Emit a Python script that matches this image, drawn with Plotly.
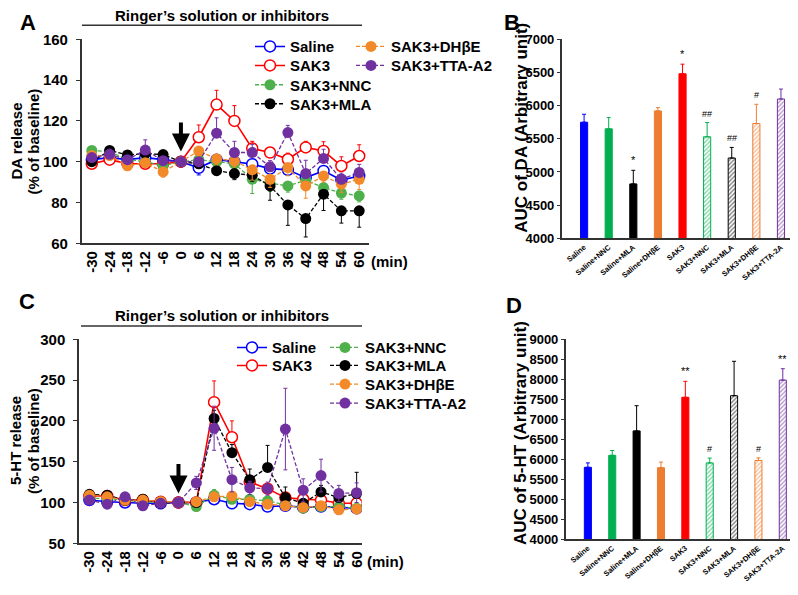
import plotly.graph_objects as go

# page body has an 8px margin: size the figure so it fills the 798x595 window
OFF = 8
W, H = 798 - OFF, 595 - OFF

# ---------------- data ----------------
time_min = [-30, -24, -18, -12, -6, 0, 6, 12, 18, 24, 30, 36, 42, 48, 54, 60]
time_labels = [str(t) for t in time_min]

series_names = ["Saline", "SAK3", "SAK3+NNC", "SAK3+MLA", "SAK3+DHβE", "SAK3+TTA-A2"]

# Panel A: DA release (% of baseline)
da_saline = [101, 102, 101, 102, 101, 100, 97, 101, 100, 98.8, 96.6, 96, 92.2, 95.5, 91, 93]
da_sak3 = [99, 101, 99, 99, 99, 100, 112, 128, 120, 106.5, 104.5, 101.2, 107, 105.3, 97.9, 102.8]
da_nnc = [105.5, 105, 101, 100, 98, 100, 101, 100, 99, 91.4, 89.5, 88.1, 90.9, 87.3, 84.6, 83.3]
da_mla = [100, 105.5, 103.3, 104, 103.5, 100, 99, 95.6, 94.2, 93.4, 88.1, 78.8, 72.1, 84.1, 75.9, 75.9]
da_dhbe = [103, 103, 98, 99.5, 95, 100, 105.2, 101.5, 100.4, 96, 91.4, 97.1, 88.1, 93, 89, 91.4]
da_tta = [102, 103.6, 101, 105.7, 100.5, 100, 100, 114, 104.5, 104.5, 97.5, 114.3, 94.2, 101.6, 91.4, 94.7]

da_saline_err = [1.5, 1.5, 1.5, 1.5, 1.5, 0, 3.5, 2, 2, 2, 2.5, 2.5, 2.5, 2, 2, 2]
da_sak3_err = [1.5, 1.5, 2, 2, 2, 0, 6, 7, 7.5, 3.5, 2.5, 3, 3, 4.5, 4.5, 5.5]
da_nnc_err = [2.5, 3, 2, 2, 2, 0, 2, 3, 3, 7, 4, 3, 3, 3, 3, 3]
da_mla_err = [2, 2, 2, 2, 2, 0, 2, 2, 3, 3, 7, 10, 9, 8, 6, 8]
da_dhbe_err = [2, 2, 2, 2, 2.5, 0, 3, 3, 3, 5, 4, 4, 6, 3, 4, 5]
da_tta_err = [2, 2.5, 2, 5, 2, 0, 2, 7.5, 5.5, 4, 3, 3.5, 6.5, 4.5, 3, 4]

# Panel C: 5-HT release (% of baseline)
ht_saline = [103, 101, 100, 99, 99, 100, 100, 104, 99, 98, 95, 96, 94, 95, 94, 93]
ht_sak3 = [108, 108, 103, 103, 101, 100, 100, 223, 180, 125, 117, 106, 104, 103, 99, 99]
ht_nnc = [105, 105, 103, 100, 101, 100, 95, 109, 104, 104, 102, 97, 93, 95, 95, 93]
ht_mla = [110, 109, 103, 104, 99, 100, 100, 203, 161, 128, 143, 106, 99, 113, 106, 111]
ht_dhbe = [109, 107, 103, 103, 101, 100, 101, 107, 108, 101, 98, 96, 94, 96, 91, 92]
ht_tta = [103, 98, 107, 96, 99, 100, 124, 191, 128, 118, 117, 190, 115, 133, 111, 112]

ht_saline_err = [2, 2, 2, 2, 2, 0, 2, 2, 2, 2, 2, 2, 2, 2, 2, 2]
ht_sak3_err = [2, 2, 2, 2, 2, 0, 2, 26, 20, 5, 4, 4, 4, 4, 4, 4]
ht_nnc_err = [2, 2, 2, 2, 2, 0, 3, 7, 5, 5, 4, 3, 3, 3, 3, 3]
ht_mla_err = [2, 2, 2, 2, 2, 0, 2, 10, 10, 13, 27, 13, 5, 8, 8, 26]
ht_dhbe_err = [2, 2, 2, 2, 2, 0, 2, 2, 3, 3, 3, 3, 2, 2, 2, 2]
ht_tta_err = [2, 2, 2, 2, 2, 0, 8, 27, 15, 8, 8, 50, 14, 20, 10, 12]

# Panels B/D: AUC bars
bar_categories = ["Saline", "Saline+NNC", "Saline+MLA", "Saline+DHβE", "SAK3",
                  "SAK3+NNC", "SAK3+MLA", "SAK3+DHβE", "SAK3+TTA-2A"]
auc_da = [5750, 5650, 4820, 5920, 6480, 5530, 5210, 5730, 6100]
auc_da_err = [120, 170, 205, 50, 145, 215, 160, 290, 150]
auc_da_sig = ["", "", "*", "", "*", "##", "##", "#", ""]
auc_ht = [5800, 6100, 6710, 5790, 7550, 5910, 7590, 5970, 7980]
auc_ht_err = [110, 120, 630, 140, 400, 120, 860, 65, 285]
auc_ht_sig = ["", "", "", "", "**", "#", "", "#", "**"]

# ---------------- styles ----------------
FONT = "Arial, Liberation Sans, sans-serif"
AX = "#333333"
line_colors = ["#0000FF", "#FF0000", "#4DB04A", "#000000", "#F28A2A", "#7030A0"]
open_marker = [True, True, False, False, False, False]
dashes = ["solid", "solid", "4px,2px", "4px,2px", "4px,2px", "4px,2px"]
da_dir = ["down", "up", "down", "down", "down", "up"]
ht_dir = ["down", "up", "up", "up", "down", "both"]
bar_colors = ["#0000FF", "#00B050", "#000000", "#ED7D31", "#FF0000",
              "#00B050", "#000000", "#ED7D31", "#7030A0"]
bar_hatched = [False, False, False, False, False, True, True, True, True]

# legend text-start x and row-centre y (window pixels) for each series, panels A and C
legA_pos = [(293, 46.7), (293, 65.7), (293, 85), (293, 104), (394, 46.7), (394, 65.7)]
legC_pos = [(275, 347.7), (275, 365.7), (368, 347.7), (368, 365.7), (368, 384.3), (368, 403.3)]

fig = go.Figure()


def px_x(p):
    return (p - OFF) / W


def px_y(p):
    return 1 - (p - OFF) / H


legend_layouts = {}
leg_counter = [0]


def new_legend(pos):
    leg_counter[0] += 1
    name = "legend" if leg_counter[0] == 1 else "legend%d" % leg_counter[0]
    legend_layouts[name] = dict(
        font=dict(family=FONT, size=15, color="black", weight="bold"),
        bgcolor="rgba(0,0,0,0)", borderwidth=0, xanchor="left", yanchor="middle",
        x=px_x(pos[0] - 43), y=px_y(pos[1]), tracegroupgap=0, itemsizing="trace")
    return name


def add_line_panel(xa, ya, datas, errs, dirs, positions):
    for i, name in enumerate(series_names):
        e = errs[i]
        up = [v if dirs[i] in ("up", "both") else 0 for v in e]
        dn = [v if dirs[i] in ("down", "both") else 0 for v in e]
        col = line_colors[i]
        fig.add_trace(go.Scatter(
            x=time_min, y=datas[i], name=name, mode="lines+markers",
            xaxis=xa, yaxis=ya, legend=new_legend(positions[i]),
            line=dict(color=col, width=1.6 if open_marker[i] else 1.3, dash=dashes[i]),
            marker=dict(size=11, symbol="circle",
                        color="white" if open_marker[i] else col,
                        line=dict(color=col, width=1.5 if open_marker[i] else 0)),
            error_y=dict(type="data", symmetric=False, array=up, arrayminus=dn,
                         color=col, thickness=1, width=2),
        ))


add_line_panel("x", "y", [da_saline, da_sak3, da_nnc, da_mla, da_dhbe, da_tta],
               [da_saline_err, da_sak3_err, da_nnc_err, da_mla_err, da_dhbe_err, da_tta_err],
               da_dir, legA_pos)
add_line_panel("x3", "y3", [ht_saline, ht_sak3, ht_nnc, ht_mla, ht_dhbe, ht_tta],
               [ht_saline_err, ht_sak3_err, ht_nnc_err, ht_mla_err, ht_dhbe_err, ht_tta_err],
               ht_dir, legC_pos)


def add_bar_panel(xa, ya, vals, errs):
    for i, cat in enumerate(bar_categories):
        col = bar_colors[i]
        fig.add_trace(go.Bar(
            x=[cat], y=[vals[i]], width=0.29, xaxis=xa, yaxis=ya, showlegend=False,
            marker=dict(color="white" if bar_hatched[i] else col,
                        line=dict(color=col, width=1),
                        pattern=dict(shape="/" if bar_hatched[i] else "",
                                     fgcolor=col, bgcolor="white", size=3,
                                     solidity=0.45, fillmode="overlay")),
            error_y=dict(type="data", symmetric=False, array=[errs[i]], arrayminus=[0],
                         color=col, thickness=1, width=2),
        ))


add_bar_panel("x2", "y2", auc_da, auc_da_err)
add_bar_panel("x4", "y4", auc_ht, auc_ht_err)

tickf = dict(family=FONT, size=15, color="black", weight="bold")
common_ax = dict(showgrid=False, zeroline=False, showline=True, linecolor=AX, linewidth=1.5,
                 automargin=False)
line_x = dict(common_ax, tickvals=time_min, ticktext=time_labels, tickangle=-90,
              tickfont=tickf, ticks="", ticklabelstandoff=0)
line_y = dict(common_ax, ticks="outside", ticklen=4, tickcolor=AX, tickfont=tickf,
              ticklabelstandoff=5)
bar_x = dict(common_ax, ticks="", tickangle=-40, categoryorder="array",
             categoryarray=bar_categories,
             tickfont=dict(family=FONT, size=7.5, color="black", weight="bold"),
             range=[-0.91, 8.57])
bar_y = dict(common_ax, ticks="outside", ticklen=3, tickcolor=AX, dtick=500,
             tickfont=dict(family=FONT, size=13, color="black", weight="bold"))

fig.update_layout(
    width=W, height=H, margin=dict(l=0, r=0, t=0, b=0, autoexpand=False),
    paper_bgcolor="white", plot_bgcolor="white", barmode="overlay",
    font=dict(family=FONT, color="black"),
    xaxis=dict(line_x, domain=[px_x(81.7), px_x(369.3)], range=[-33.4, 63.4], anchor="y"),
    yaxis=dict(line_y, domain=[px_y(243.3), px_y(39.3)], range=[60, 160], dtick=20, anchor="x"),
    xaxis3=dict(line_x, domain=[px_x(79), px_x(361.7)], range=[-33.5, 61.7], anchor="y3"),
    yaxis3=dict(line_y, domain=[px_y(543.3), px_y(339.3)], range=[50, 300], dtick=50, anchor="x3"),
    xaxis2=dict(bar_x, domain=[px_x(561.7), px_x(795)], anchor="y2"),
    yaxis2=dict(bar_y, domain=[px_y(238.3), px_y(39.3)], range=[4000, 7000], anchor="x2"),
    xaxis4=dict(bar_x, domain=[px_x(565.7), px_x(796.7)], anchor="y4"),
    yaxis4=dict(bar_y, domain=[px_y(539.3), px_y(339.3)], range=[4000, 9000], anchor="x4"),
)
fig.update_layout(**legend_layouts)

ann = []


def txt_ann(text, x, y, size, angle=0, yanchor="middle"):
    return dict(text=text, x=px_x(x), y=px_y(y), xref="paper", yref="paper",
                xanchor="center", yanchor=yanchor, showarrow=False, textangle=angle,
                font=dict(family=FONT, size=size, weight="bold", color="black"))


# panel letters (A and B anchored at the top edge of the figure)
ann.append(txt_ann("A", 28, OFF, 22, yanchor="top"))
ann.append(txt_ann("B", 512, OFF, 22, yanchor="top"))
ann.append(txt_ann("C", 27, 302, 22))
ann.append(txt_ann("D", 514, 306, 22))
for y in [15.7, 315.7]:
    ann.append(txt_ann("Ringer’s solution or inhibitors", 221.7, y, 15))
for x, y in [(389, 261.7), (385, 561.7)]:
    ann.append(txt_ann("(min)", x, y, 15))
for t, x, y, fs in [("DA release", 16, 141.5, 15), ("(% of baseline)", 33, 141.5, 15),
                    ("5-HT release", 15, 441, 15), ("(% of baseline)", 33, 441, 15),
                    ("AUC of DA (Arbitrary unit)", 521.7, 128, 17),
                    ("AUC of 5-HT (Arbitrary unit)", 520, 433, 17)]:
    ann.append(txt_ann(t, x, y, fs, angle=-90))
# arrows at t = 0
for xr, yr, y0, y1 in [("x", "y", 120, 105), ("x3", "y3", 149, 111)]:
    ann.append(dict(x=0, y=y1, ax=0, ay=y0, xref=xr, yref=yr, axref=xr, ayref=yr,
                    text="", showarrow=True, arrowhead=2, arrowsize=0.9, arrowwidth=4,
                    arrowcolor="black"))
# significance marks
for xr, yr, vals, errs, sigs in [("x2", "y2", auc_da, auc_da_err, auc_da_sig),
                                 ("x4", "y4", auc_ht, auc_ht_err, auc_ht_sig)]:
    for i, s in enumerate(sigs):
        if s:
            ann.append(dict(text=s, x=bar_categories[i], y=vals[i] + errs[i],
                            xref=xr, yref=yr, showarrow=False, xanchor="center",
                            yanchor="bottom", yshift=2,
                            font=dict(family=FONT, size=11 if "*" in s else 9, color="black")))
fig.update_layout(annotations=ann)

fig.update_layout(shapes=[
    dict(type="line", xref="paper", yref="paper", x0=px_x(82), x1=px_x(362),
         y0=px_y(25.3), y1=px_y(25.3), line=dict(color=AX, width=1.5)),
    dict(type="line", xref="paper", yref="paper", x0=px_x(81), x1=px_x(362),
         y0=px_y(326), y1=px_y(326), line=dict(color=AX, width=1.5)),
])

fig.write_html("out.html")
